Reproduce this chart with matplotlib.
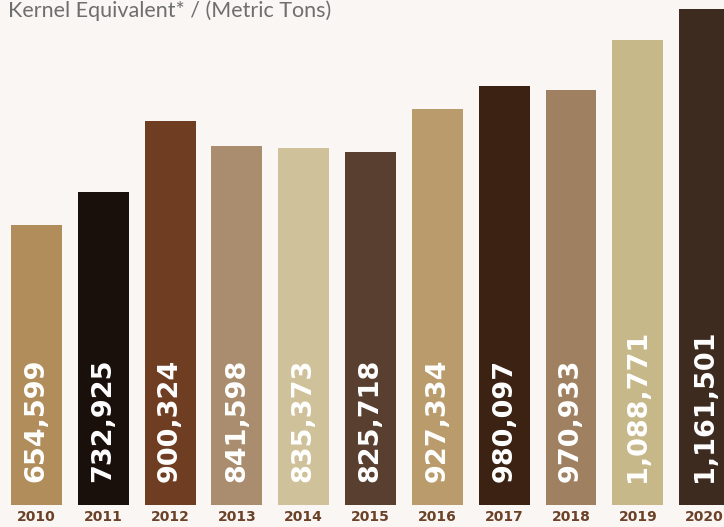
import matplotlib
matplotlib.use("Agg")
import matplotlib.pyplot as plt
import numpy as np

# ── Data ──────────────────────────────────────────────────────────────────────
YEARS = ["2010", "2011", "2012", "2013", "2014", "2015",
         "2016", "2017", "2018", "2019", "2020"]
VALUES = [654599, 732925, 900324, 841598, 835373, 825718,
          927334, 980097, 970933, 1088771, 1161501]
COLORS = ["#b08d5a", "#1a100b", "#6f3d22", "#a98d6e", "#cfc19a", "#583f30",
          "#b99b6c", "#3b2213", "#9f8060", "#c7b88a", "#3e2b1f"]

BG = "#faf6f3"

# ── Figure ────────────────────────────────────────────────────────────────────
fig = plt.figure(figsize=(7.24, 5.27), dpi=100, facecolor=BG)
ax = fig.add_axes([0, 22 / 527, 1, 505 / 527])
ax.set_facecolor(BG)

x = np.arange(len(YEARS))
ax.bar(x, VALUES, width=0.763, color=COLORS, linewidth=0)

for xi, v in zip(x, VALUES):
    ax.annotate(f"{v:,}", xy=(xi, 0), xytext=(0, 16.5),
                textcoords="offset points", rotation=90,
                ha="center", va="bottom", fontsize=19.5,
                fontweight="bold", color="white")

ax.set_xlim(-0.546, 10.29)
ax.set_ylim(0, 1182577)
ax.set_xticks(x)
ax.set_xticklabels(YEARS, fontsize=10, fontweight="bold", color="#6b4128")
ax.tick_params(axis="x", length=0, pad=3.5)
ax.set_yticks([])
for s in ax.spines.values():
    s.set_visible(False)

fig.text(8 / 724, 1 - 17 / 527, "Kernel Equivalent* / (Metric Tons)",
         fontsize=15.5, family="Lato", color="#6e6e6e",
         ha="left", va="baseline")

fig.savefig("out.png", dpi=100, facecolor=BG)
plt.close(fig)
